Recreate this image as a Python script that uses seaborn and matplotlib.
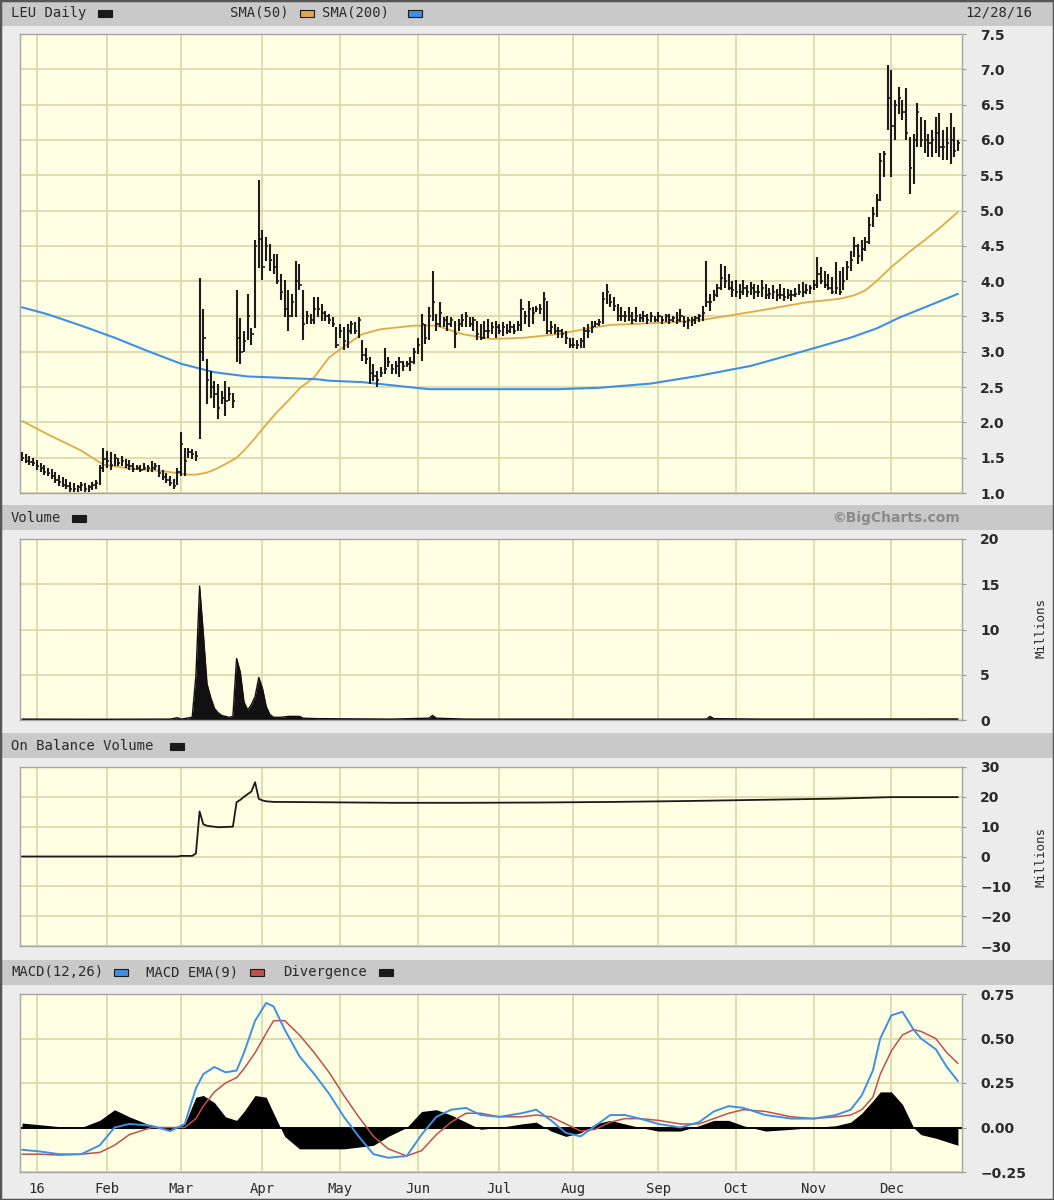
import numpy as np
import pandas as pd
import matplotlib
matplotlib.use("Agg")
import matplotlib.pyplot as plt
import seaborn as sns
from matplotlib.patches import Rectangle

# ---------------- trading calendar ----------------
holidays = ["2016-01-01", "2016-01-18", "2016-02-15", "2016-03-25", "2016-05-30",
            "2016-07-04", "2016-09-05", "2016-11-24", "2016-12-26"]
dates = pd.bdate_range("2015-12-28", "2016-12-28")
dates = dates[~dates.isin(pd.to_datetime(holidays))]

month_labels = ["16", "Feb", "Mar", "Apr", "May", "Jun", "Jul", "Aug", "Sep", "Oct", "Nov", "Dec"]

# ---------------- daily price bars (high / low / close) ----------------
high_dec15 = [1.58, 1.55, 1.52, 1.50]
low_dec15 = [1.45, 1.42, 1.40, 1.38]
close_dec15 = [1.50, 1.46, 1.44, 1.42]

high_jan = [1.47, 1.42, 1.40, 1.36, 1.34, 1.30, 1.26, 1.22, 1.20, 1.16, 1.14, 1.12, 1.16, 1.14, 1.12, 1.16, 1.18, 1.40, 1.64]
low_jan = [1.33, 1.30, 1.26, 1.24, 1.20, 1.14, 1.10, 1.08, 1.06, 1.02, 1.01, 1.02, 1.03, 1.02, 1.02, 1.04, 1.06, 1.12, 1.30]
close_jan = [1.38, 1.35, 1.30, 1.28, 1.24, 1.18, 1.15, 1.12, 1.10, 1.06, 1.05, 1.08, 1.12, 1.06, 1.08, 1.12, 1.14, 1.35, 1.48]

high_feb = [1.60, 1.58, 1.55, 1.50, 1.52, 1.48, 1.47, 1.42, 1.40, 1.40, 1.42, 1.40, 1.45, 1.42, 1.40, 1.32, 1.28, 1.24, 1.20, 1.35]
low_feb = [1.36, 1.32, 1.38, 1.38, 1.38, 1.35, 1.33, 1.30, 1.32, 1.30, 1.32, 1.30, 1.30, 1.32, 1.22, 1.18, 1.14, 1.10, 1.06, 1.12]
close_feb = [1.45, 1.40, 1.50, 1.42, 1.45, 1.40, 1.38, 1.34, 1.36, 1.33, 1.36, 1.35, 1.36, 1.38, 1.28, 1.22, 1.18, 1.14, 1.10, 1.30]

high_mar = [1.86, 1.64, 1.64, 1.62, 1.60, 4.04, 3.61, 2.90, 2.73, 2.59, 2.54, 2.45, 2.59, 2.50, 2.42, 3.87, 3.48, 3.30, 3.82, 3.33, 4.58, 5.43]
low_mar = [1.24, 1.24, 1.50, 1.48, 1.45, 1.77, 2.87, 2.26, 2.35, 2.21, 2.05, 2.26, 2.09, 2.30, 2.21, 2.85, 2.83, 3.00, 3.16, 3.10, 3.34, 4.19]
close_mar = [1.70, 1.45, 1.58, 1.55, 1.52, 3.00, 3.20, 2.60, 2.50, 2.40, 2.20, 2.35, 2.30, 2.40, 2.30, 3.20, 3.00, 3.15, 3.50, 3.25, 4.50, 4.60]

high_apr = [4.72, 4.62, 4.53, 4.39, 4.39, 4.10, 4.01, 3.87, 3.82, 4.29, 4.25, 3.87, 3.58, 3.54, 3.77, 3.77, 3.68, 3.58, 3.54, 3.49, 3.35]
low_apr = [4.01, 4.29, 4.15, 4.10, 3.96, 3.73, 3.49, 3.30, 3.49, 3.49, 3.87, 3.16, 3.39, 3.39, 3.39, 3.49, 3.44, 3.44, 3.39, 3.35, 3.06]
close_apr = [4.20, 4.50, 4.30, 4.20, 4.00, 3.85, 3.60, 3.50, 3.70, 4.00, 3.95, 3.40, 3.50, 3.45, 3.60, 3.60, 3.55, 3.50, 3.45, 3.40, 3.10]

high_may = [3.39, 3.35, 3.39, 3.44, 3.42, 3.49, 3.16, 3.06, 2.92, 2.83, 2.73, 2.78, 3.06, 2.92, 2.83, 2.87, 2.92, 2.87, 2.87, 2.92, 3.06]
low_may = [3.20, 3.02, 3.06, 3.25, 3.25, 3.20, 2.87, 2.83, 2.54, 2.59, 2.50, 2.64, 2.69, 2.78, 2.69, 2.69, 2.64, 2.73, 2.78, 2.73, 2.83]
close_may = [3.30, 3.15, 3.30, 3.40, 3.30, 3.45, 2.95, 2.90, 2.70, 2.65, 2.60, 2.70, 2.75, 2.85, 2.75, 2.80, 2.85, 2.80, 2.82, 2.85, 3.00]

high_jun = [3.20, 3.54, 3.39, 3.63, 4.15, 3.54, 3.70, 3.49, 3.51, 3.49, 3.44, 3.47, 3.54, 3.56, 3.49, 3.49, 3.44, 3.39, 3.44, 3.46, 3.42, 3.44]
low_jun = [2.97, 2.87, 3.11, 3.16, 3.44, 3.30, 3.35, 3.35, 3.30, 3.35, 3.06, 3.30, 3.35, 3.35, 3.35, 3.30, 3.16, 3.16, 3.18, 3.20, 3.25, 3.20]
close_jun = [3.10, 3.40, 3.20, 3.50, 3.70, 3.40, 3.55, 3.45, 3.40, 3.45, 3.25, 3.40, 3.45, 3.50, 3.40, 3.45, 3.25, 3.20, 3.30, 3.30, 3.35, 3.35]

high_jul = [3.39, 3.42, 3.39, 3.44, 3.39, 3.44, 3.75, 3.58, 3.72, 3.63, 3.65, 3.68, 3.84, 3.72, 3.44, 3.39, 3.35, 3.32, 3.30, 3.20]
low_jul = [3.25, 3.23, 3.25, 3.27, 3.25, 3.30, 3.30, 3.39, 3.35, 3.39, 3.56, 3.53, 3.44, 3.25, 3.25, 3.25, 3.20, 3.20, 3.11, 3.06]
close_jul = [3.30, 3.35, 3.30, 3.35, 3.30, 3.38, 3.60, 3.50, 3.60, 3.55, 3.60, 3.60, 3.75, 3.30, 3.35, 3.30, 3.30, 3.25, 3.20, 3.10]

high_aug = [3.20, 3.16, 3.20, 3.35, 3.39, 3.44, 3.44, 3.46, 3.84, 3.96, 3.82, 3.77, 3.68, 3.63, 3.58, 3.63, 3.56, 3.63, 3.53, 3.58, 3.53, 3.56, 3.51]
low_aug = [3.06, 3.04, 3.06, 3.06, 3.20, 3.27, 3.35, 3.37, 3.39, 3.68, 3.63, 3.58, 3.44, 3.44, 3.42, 3.44, 3.39, 3.42, 3.42, 3.42, 3.39, 3.42, 3.42]
close_aug = [3.10, 3.10, 3.15, 3.30, 3.30, 3.35, 3.40, 3.42, 3.75, 3.85, 3.70, 3.65, 3.50, 3.50, 3.50, 3.50, 3.45, 3.50, 3.48, 3.50, 3.45, 3.50, 3.45]

high_sep = [3.56, 3.51, 3.53, 3.53, 3.51, 3.56, 3.61, 3.51, 3.49, 3.49, 3.51, 3.53, 3.65, 4.29, 3.82, 3.87, 3.96, 4.25, 4.22, 4.10, 4.00]
low_sep = [3.42, 3.39, 3.42, 3.39, 3.42, 3.39, 3.42, 3.35, 3.32, 3.37, 3.39, 3.42, 3.44, 3.63, 3.58, 3.72, 3.77, 3.87, 3.91, 3.87, 3.78]
close_sep = [3.50, 3.45, 3.50, 3.45, 3.48, 3.45, 3.50, 3.42, 3.45, 3.45, 3.48, 3.50, 3.55, 3.70, 3.70, 3.80, 3.90, 4.05, 4.00, 3.90, 3.88]

high_oct = [4.01, 3.96, 4.01, 3.94, 3.99, 3.96, 3.94, 4.01, 3.96, 3.91, 3.94, 3.89, 3.96, 3.91, 3.89, 3.87, 3.91, 3.96, 3.99, 3.96, 3.94]
low_oct = [3.77, 3.75, 3.80, 3.77, 3.80, 3.75, 3.77, 3.77, 3.75, 3.75, 3.75, 3.72, 3.75, 3.72, 3.75, 3.72, 3.77, 3.80, 3.77, 3.82, 3.82]
close_oct = [3.85, 3.85, 3.90, 3.85, 3.90, 3.85, 3.85, 3.90, 3.80, 3.82, 3.85, 3.80, 3.80, 3.78, 3.80, 3.80, 3.82, 3.85, 3.85, 3.88, 3.90]

high_nov = [4.01, 4.34, 4.20, 4.15, 4.10, 4.06, 4.27, 4.15, 4.20, 4.29, 4.43, 4.62, 4.53, 4.58, 4.62, 4.91, 5.05, 5.24, 5.81, 5.85, 7.06]
low_nov = [3.87, 3.91, 3.96, 3.91, 3.87, 3.82, 3.82, 3.80, 3.87, 4.01, 4.15, 4.34, 4.24, 4.29, 4.43, 4.53, 4.77, 4.91, 5.14, 5.47, 6.14]
close_nov = [3.95, 4.10, 4.00, 3.95, 3.90, 3.85, 3.90, 3.85, 4.00, 4.20, 4.30, 4.50, 4.35, 4.45, 4.55, 4.80, 4.95, 5.15, 5.70, 5.80, 6.60]

high_dec = [6.99, 6.56, 6.75, 6.56, 6.73, 6.04, 6.09, 6.52, 6.33, 6.28, 6.09, 6.14, 6.33, 6.38, 6.14, 6.19, 6.38, 6.19, 6.00]
low_dec = [5.47, 6.00, 6.37, 6.28, 6.00, 5.24, 5.38, 5.90, 5.90, 5.81, 5.76, 5.76, 5.81, 5.76, 5.71, 5.71, 5.66, 5.76, 5.85]
close_dec = [6.20, 6.50, 6.60, 6.40, 6.10, 5.60, 6.00, 6.40, 6.00, 6.00, 5.95, 6.00, 6.10, 5.90, 5.90, 5.95, 6.00, 5.85, 5.95]

# ---------------- moving averages (readings, trading-day number) ----------------
sma50_day = [0, 7, 16, 22, 30, 38, 45, 47, 50, 52, 55, 58, 60, 63, 66, 69, 72, 75, 79, 83, 88, 92, 97, 106, 112, 119, 127, 136, 145, 154, 159, 168, 177, 185, 199, 212, 221, 225, 228, 231, 235, 240, 244, 248, 253]
sma50_val = [2.02, 1.83, 1.60, 1.40, 1.34, 1.31, 1.26, 1.26, 1.29, 1.33, 1.41, 1.50, 1.60, 1.78, 1.97, 2.15, 2.31, 2.48, 2.64, 2.92, 3.11, 3.25, 3.32, 3.37, 3.37, 3.25, 3.18, 3.20, 3.25, 3.34, 3.38, 3.40, 3.42, 3.46, 3.58, 3.70, 3.75, 3.80, 3.87, 4.00, 4.20, 4.42, 4.58, 4.75, 4.98]
sma200_day = [0, 7, 16, 25, 34, 43, 52, 61, 66, 80, 83, 92, 101, 110, 124, 145, 156, 170, 183, 197, 210, 224, 231, 237, 245, 253]
sma200_val = [3.63, 3.53, 3.37, 3.20, 3.01, 2.83, 2.71, 2.65, 2.64, 2.61, 2.59, 2.57, 2.52, 2.47, 2.47, 2.47, 2.49, 2.55, 2.66, 2.80, 2.99, 3.20, 3.33, 3.48, 3.65, 3.82]

# ---------------- volume (millions) ----------------
vol_day = [0, 20, 40, 42, 43, 46, 47, 48, 49, 50, 51, 52, 53, 54, 55, 56, 57, 58, 59, 60, 61, 62, 63, 64, 65, 66, 67, 68, 70, 72, 75, 76, 80, 100, 110, 111, 112, 120, 150, 185, 186, 187, 200, 253]
vol_val = [0.10, 0.08, 0.10, 0.25, 0.10, 0.30, 4.9, 14.8, 9.6, 4.0, 2.5, 1.3, 0.8, 0.5, 0.4, 0.3, 0.4, 6.8, 5.3, 2.0, 1.1, 1.7, 2.6, 4.7, 3.5, 1.5, 0.6, 0.3, 0.3, 0.4, 0.4, 0.2, 0.15, 0.10, 0.20, 0.50, 0.20, 0.10, 0.10, 0.10, 0.40, 0.15, 0.10, 0.12]

# ---------------- on balance volume (millions) ----------------
obv_day = [0, 42, 43, 46, 47, 48, 49, 50, 53, 57, 58, 59, 60, 61, 62, 63, 64, 65, 66, 68, 80, 100, 120, 140, 160, 180, 200, 220, 235, 253]
obv_val = [0.0, 0.0, 0.2, 0.2, 1.0, 15.1, 10.8, 10.3, 9.8, 10.0, 18.2, 19.0, 20.0, 20.9, 21.8, 24.9, 19.3, 18.8, 18.5, 18.3, 18.2, 18.0, 18.0, 18.1, 18.3, 18.6, 19.0, 19.4, 19.9, 19.9]

# ---------------- MACD ----------------
macd_day = [0, 5, 10, 16, 21, 25, 29, 35, 40, 44, 47, 49, 52, 55, 58, 60, 63, 66, 68, 71, 75, 79, 83, 87, 91, 95, 99, 104, 108, 112, 116, 120, 124, 129, 135, 139, 143, 147, 151, 155, 159, 163, 167, 172, 178, 183, 187, 191, 195, 201, 208, 214, 220, 224, 227, 230, 232, 235, 238, 241, 243, 247, 250, 253]
macd_val = [-0.125, -0.135, -0.15, -0.15, -0.10, 0.00, 0.02, 0.01, -0.02, 0.02, 0.22, 0.30, 0.34, 0.31, 0.32, 0.42, 0.60, 0.70, 0.68, 0.55, 0.40, 0.30, 0.19, 0.06, -0.05, -0.15, -0.17, -0.16, -0.04, 0.06, 0.10, 0.11, 0.07, 0.06, 0.08, 0.10, 0.04, -0.03, -0.05, 0.01, 0.07, 0.07, 0.05, 0.02, 0.00, 0.03, 0.09, 0.12, 0.11, 0.07, 0.05, 0.05, 0.07, 0.10, 0.18, 0.32, 0.50, 0.63, 0.65, 0.55, 0.50, 0.44, 0.34, 0.26]
signal_val = [-0.15, -0.15, -0.155, -0.15, -0.14, -0.10, -0.04, 0.00, 0.00, 0.00, 0.05, 0.12, 0.20, 0.25, 0.28, 0.33, 0.42, 0.53, 0.60, 0.60, 0.52, 0.42, 0.31, 0.18, 0.06, -0.05, -0.12, -0.16, -0.13, -0.04, 0.03, 0.08, 0.08, 0.06, 0.06, 0.07, 0.06, 0.02, -0.02, -0.01, 0.03, 0.05, 0.05, 0.04, 0.02, 0.02, 0.05, 0.08, 0.10, 0.09, 0.06, 0.05, 0.06, 0.07, 0.10, 0.17, 0.30, 0.43, 0.52, 0.55, 0.54, 0.50, 0.42, 0.36]

# ---------------- assemble ----------------
high = np.array(high_dec15 + high_jan + high_feb + high_mar + high_apr + high_may + high_jun + high_jul + high_aug + high_sep + high_oct + high_nov + high_dec)
low = np.array(low_dec15 + low_jan + low_feb + low_mar + low_apr + low_may + low_jun + low_jul + low_aug + low_sep + low_oct + low_nov + low_dec)
close = np.array(close_dec15 + close_jan + close_feb + close_mar + close_apr + close_may + close_jun + close_jul + close_aug + close_sep + close_oct + close_nov + close_dec)
n = len(dates)
assert len(high) == n and len(low) == n and len(close) == n, (len(high), len(low), len(close), n)
day = np.arange(n)
month_idx = [int(np.where((dates.year == 2016) & (dates.month == m))[0][0]) for m in range(1, 13)]

# ---------------- styling ----------------
sns.set_style("white")
plt.rcParams["font.family"] = ["DejaVu Sans"]

W, H = 1054, 1200
BG = "#ececec"
BAND = "#c9c9c9"
CREAM = "#ffffe3"
GRID = "#dcdbab"
TXT = "#2b2b2b"
ORANGE = "#e2a84a"
BLUE = "#3d8fe8"
RED = "#c0504d"
MONO = "DejaVu Sans Mono"

fig = plt.figure(figsize=(W / 100, H / 100), dpi=100)
fig.patch.set_facecolor(BG)

def fx(px):
    return px / W

def fy(py):
    return 1 - py / H

def add_axes(top, bottom):
    ax = fig.add_axes([fx(20), fy(bottom), fx(962) - fx(20), (bottom - top) / H])
    ax.set_facecolor(CREAM)
    for s in ax.spines.values():
        s.set_color("#a5a5a5")
        s.set_linewidth(1.0)
    ax.set_xlim(-0.55, n + 0.1)
    ax.set_xticks(month_idx)
    ax.grid(True, color=GRID, lw=1.3, zorder=0)
    ax.set_axisbelow(True)
    ax.yaxis.tick_right()
    ax.tick_params(axis="y", which="both", left=False, right=True, labelleft=False,
                   labelright=True, length=3, color="#9a9a9a", pad=10,
                   labelsize=10, labelcolor=TXT)
    ax.tick_params(axis="x", length=0, labelbottom=False)
    return ax

def band(top, bottom):
    fig.patches.append(Rectangle((0, fy(bottom)), 1, (bottom - top) / H,
                                 transform=fig.transFigure, facecolor=BAND,
                                 edgecolor="none", zorder=0))

def swatch(x, y, color):
    fig.patches.append(Rectangle((fx(x), fy(y + 4)), fx(14), 7 / H,
                                 transform=fig.transFigure, facecolor=color,
                                 edgecolor="#1a1a1a", lw=0.8, zorder=3))

def head(x, y, s, **kw):
    fig.text(fx(x), fy(y), s, family=MONO, fontsize=10, color=TXT,
             va="center", ha=kw.pop("ha", "left"), **kw)

# header bands
band(0, 26)
band(505, 530)
band(733, 758)
band(960, 985)

# ---- price panel ----
ax1 = add_axes(34, 493)
ax1.vlines(day, low, high, color="#1c1c1c", lw=1.5, zorder=3)
ax1.hlines(close, day, day + 0.6, color="#1c1c1c", lw=1.2, zorder=3)
sns.lineplot(x=sma50_day, y=sma50_val, ax=ax1, color=ORANGE, lw=1.3, zorder=2)
sns.lineplot(x=sma200_day, y=sma200_val, ax=ax1, color=BLUE, lw=1.5, zorder=2)
ax1.set_ylim(1.0, 7.5)
ax1.set_yticks(np.arange(1.0, 7.51, 0.5))
ax1.set_yticklabels([f"{v:.1f}" for v in np.arange(1.0, 7.51, 0.5)], fontweight="bold")
ax1.set_xlabel("")
ax1.set_ylabel("")

# ---- volume panel ----
ax2 = add_axes(539, 720)
ax2.fill_between(vol_day, 0, vol_val, color="#111111", lw=0, zorder=2)
sns.lineplot(x=vol_day, y=vol_val, ax=ax2, color="#111111", lw=1.0, zorder=3)
ax2.set_ylim(0, 20)
ax2.set_yticks([0, 5, 10, 15, 20])
ax2.set_yticklabels(["0", "5", "10", "15", "20"], fontweight="bold")
ax2.set_xlabel("")
ax2.set_ylabel("")

# ---- OBV panel ----
ax3 = add_axes(767, 946)
sns.lineplot(x=obv_day, y=obv_val, ax=ax3, color="#1a1a1a", lw=1.3, zorder=3)
ax3.set_ylim(-30, 30)
ax3.set_yticks([-30, -20, -10, 0, 10, 20, 30])
ax3.set_yticklabels(["\u221230", "\u221220", "\u221210", "0", "10", "20", "30"], fontweight="bold")
ax3.set_xlabel("")
ax3.set_ylabel("")

# ---- MACD panel ----
ax4 = add_axes(994, 1172)
div = np.array(macd_val) - np.array(signal_val)
ax4.fill_between(macd_day, 0, div, color="#000000", lw=0, zorder=2)
ax4.axhline(0, color="#000000", lw=1.4, zorder=2)
sns.lineplot(x=macd_day, y=signal_val, ax=ax4, color=RED, lw=1.1, zorder=3)
sns.lineplot(x=macd_day, y=macd_val, ax=ax4, color=BLUE, lw=1.4, zorder=4)
ax4.set_ylim(-0.25, 0.75)
ax4.set_yticks([-0.25, 0.0, 0.25, 0.5, 0.75])
ax4.set_yticklabels(["\u22120.25", "0.00", "0.25", "0.50", "0.75"], fontweight="bold")
ax4.tick_params(axis="x", labelbottom=True, pad=7)
ax4.set_xticklabels(month_labels, family=MONO, fontsize=10, color=TXT)
ax4.set_xlabel("")
ax4.set_ylabel("")

# ---- headers ----
head(11, 13, "LEU Daily")
swatch(98, 13, "#1a1a1a")
head(230, 13, "SMA(50)")
swatch(300, 13, ORANGE)
head(322, 13, "SMA(200)")
swatch(408, 13, BLUE)
head(1032, 13, "12/28/16", ha="right")

head(11, 518, "Volume")
swatch(72, 518, "#1a1a1a")
fig.text(fx(960), fy(518), "\u00a9BigCharts.com", fontsize=10, fontweight="bold",
         color="#8a8a8a", ha="right", va="center")

head(11, 746, "On Balance Volume")
swatch(170, 746, "#1a1a1a")

head(11, 972, "MACD(12,26)")
swatch(114, 972, BLUE)
head(146, 972, "MACD EMA(9)")
swatch(250, 972, RED)
head(283, 972, "Divergence")
swatch(379, 972, "#1a1a1a")

for yc in (628, 857):
    fig.text(fx(1041), fy(yc), "Millions", family=MONO, fontsize=9, color=TXT,
             rotation=90, ha="center", va="center")

# outer frame
fig.patches.append(Rectangle((0, 0), 1, 1, transform=fig.transFigure, fill=False,
                             edgecolor="#555555", lw=2.5, zorder=5))

fig.savefig("out.png", dpi=100, facecolor=fig.get_facecolor())
